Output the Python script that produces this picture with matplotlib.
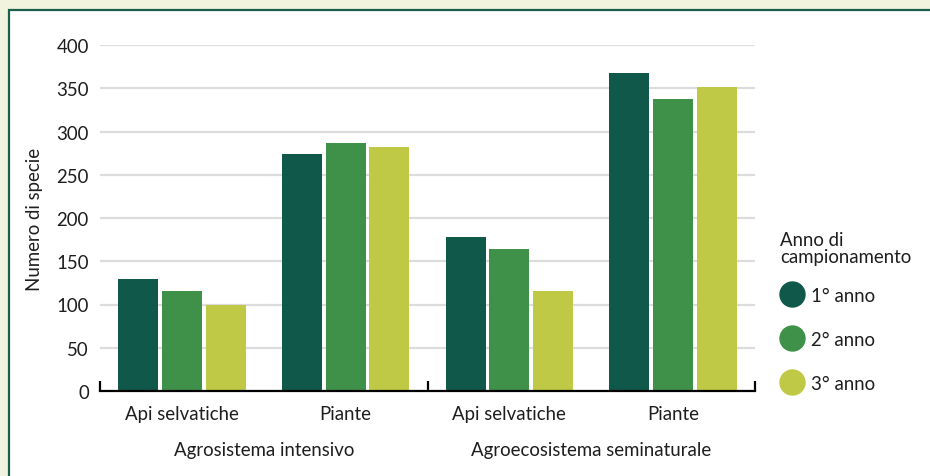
import matplotlib
matplotlib.use("Agg")
import matplotlib.pyplot as plt
from matplotlib.patches import Rectangle
from matplotlib.lines import Line2D
import matplotlib.transforms as mtransforms
import numpy as np

plt.rcParams["font.family"] = ["Lato", "DejaVu Sans"]

# Data
systems = ["Agrosistema intensivo", "Agroecosistema seminaturale"]
categories = ["Api selvatiche", "Piante", "Api selvatiche", "Piante"]
years = ["1° anno", "2° anno", "3° anno"]
anno_1 = [130, 274, 178, 368]
anno_2 = [116, 287, 164, 338]
anno_3 = [99, 282, 116, 352]
yticks = [0, 50, 100, 150, 200, 250, 300, 350, 400]

colors = ["#0f584a", "#3f914a", "#c0c946"]
text_color = "#1e1e1e"
fs = 13.4
W, H = 930, 477

fig = plt.figure(figsize=(W / 100, H / 100), dpi=100, facecolor="#f2f3df")

# white card with green border
card = Rectangle((8.5 / W, -0.1), 1.2, (H - 11) / H + 0.1, transform=fig.transFigure,
                 facecolor="white", edgecolor="#1b5e4d", linewidth=1.6, zorder=0)
fig.add_artist(card)

ax = fig.add_axes([100 / W, (H - 392) / H, 655 / W, 346 / H])
ax.set_facecolor("none")

x = np.arange(len(categories))
step = 0.267
width = 0.244
for i, (vals, col) in enumerate(zip([anno_1, anno_2, anno_3], colors)):
    ax.bar(x + (i - 1) * step, vals, width=width, color=col, zorder=3)

ax.set_xlim(-0.5, len(categories) - 0.5)
ax.set_ylim(0, 400)

for s in ["top", "right", "left"]:
    ax.spines[s].set_visible(False)
ax.spines["bottom"].set_color("black")
ax.spines["bottom"].set_linewidth(1.6)
ax.spines["bottom"].set_zorder(4)

# y axis
ax.set_yticks(yticks)
ax.set_yticklabels([str(v) for v in yticks], fontsize=fs, color=text_color)
ax.tick_params(axis="y", length=0, pad=8)
ax.yaxis.grid(True, color="#dcdcdc", linewidth=1.6, zorder=0)
ax.set_axisbelow(True)
ax.set_ylabel("Numero di specie", fontsize=fs, color=text_color, labelpad=10)

# x axis: group separators as major ticks, category names as minor tick labels
ax.set_xticks([-0.5, 1.5, 3.5])
ax.set_xticklabels([])
ax.tick_params(axis="x", which="major", direction="in", length=7, width=1.6, color="black")
ax.set_xticks(x, minor=True)
ax.set_xticklabels(categories, minor=True, fontsize=fs, color=text_color)
ax.tick_params(axis="x", which="minor", length=0, pad=10)

# system labels below the category names
trans = mtransforms.blended_transform_factory(ax.transData, fig.transFigure)
for j, name in enumerate(systems):
    ax.text(2 * j + 0.5, (H - 451) / H, name, transform=trans, ha="center", va="center",
            fontsize=fs, color=text_color)

# legend title and entries
fig.text(780 / W, (H - 263) / H, "Anno di\ncampionamento", ha="left", va="baseline",
         fontsize=fs, color=text_color, linespacing=1.0)
handles = [Line2D([], [], linestyle="none", marker="o", markersize=18,
                  markerfacecolor=c, markeredgecolor=c) for c in colors]
leg = fig.legend(handles, years, loc="upper left",
                 bbox_to_anchor=(780 / W, (H - 288) / H), frameon=False, fontsize=fs,
                 labelspacing=1.45, handletextpad=0.35, handlelength=1.34,
                 borderaxespad=0, borderpad=0)
for t in leg.get_texts():
    t.set_color(text_color)

fig.savefig("out.png", dpi=100, facecolor=fig.get_facecolor())
